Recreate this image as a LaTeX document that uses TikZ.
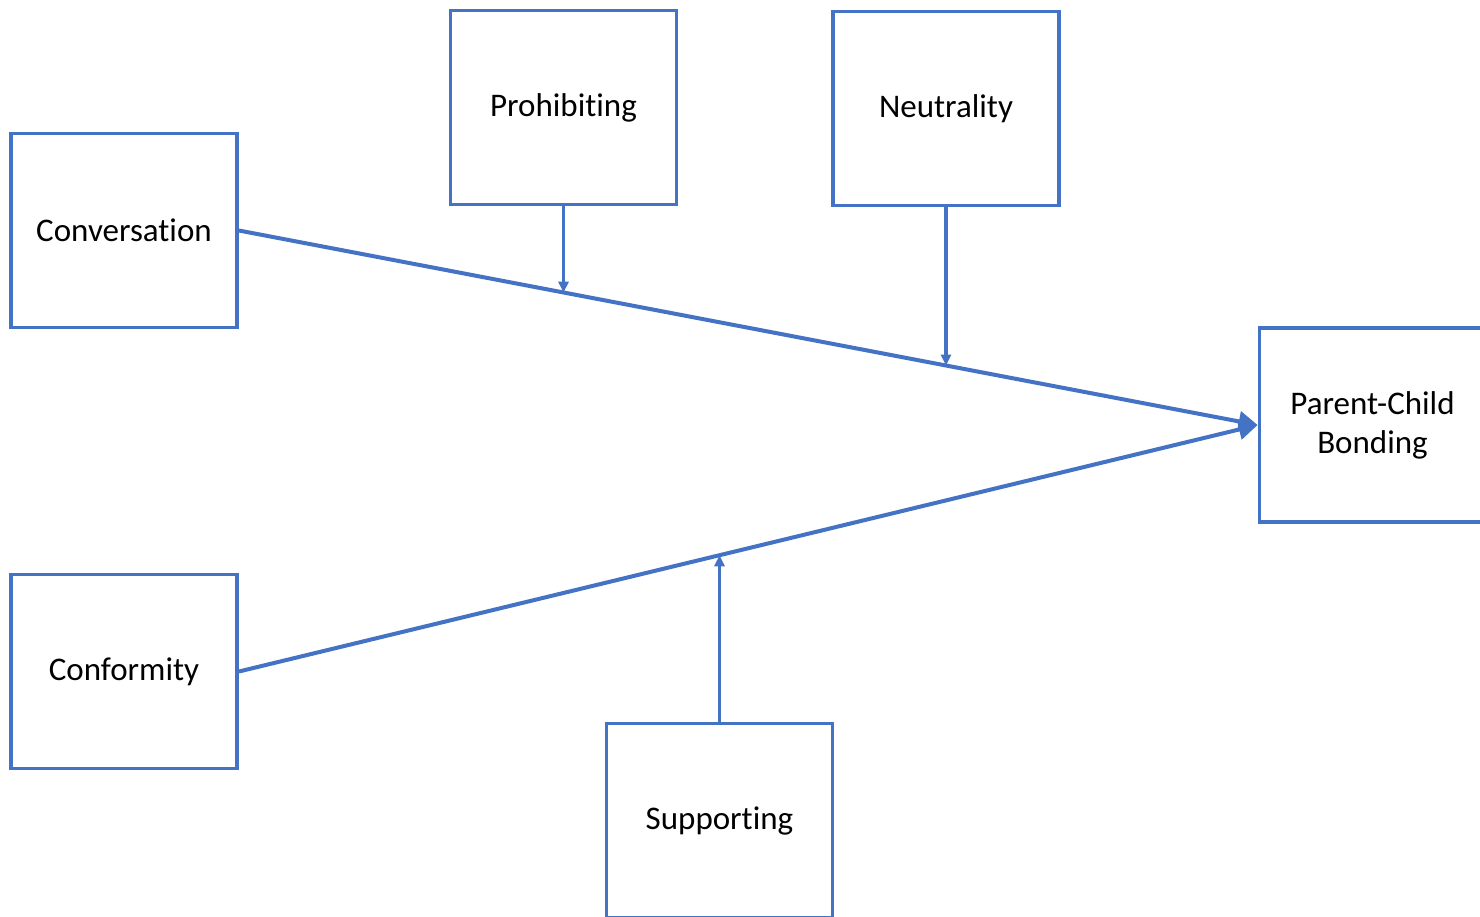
\documentclass[tikz,border=0pt]{standalone}
\usepackage{fontspec}
\setmainfont{Carlito}[Ligatures=NoCommon]
\usetikzlibrary{arrows.meta}
\definecolor{boxblue}{HTML}{4472C4}
\tikzset{
  factor/.style={draw=boxblue, line width=3.8pt, fill=white, minimum width=226pt,
    minimum height=194pt, inner sep=0pt, align=center,
    font=\fontsize{33}{39}\selectfont, yshift=-1.5pt},
  mainlink/.style={draw=boxblue, line width=4pt, -{Triangle[length=19pt,width=20pt]}},
  modlink/.style={draw=boxblue, line width=3.2pt, -{Triangle[length=11pt,width=10pt]}}
}
\begin{document}
\begin{tikzpicture}[x=1pt,y=-1pt]
  \useasboundingbox (0,0) rectangle (1480,916);
  \clip (0,0) rectangle (1480,916);
  \fill[white] (0,0) rectangle (1480,916);

  % factor boxes
  \node[factor] (conv) at (124,229) {Conversation};
  \node[factor] (prohib) at (563.5,106) {Prohibiting};
  \node[factor] (neutral) at (946,107) {Neutrality};
  \node[factor] (bond) at (1372.5,423.5) {Parent-Child\\Bonding};
  \node[factor] (conf) at (124,670) {Conformity};
  \node[factor] (supp) at (719.5,819) {Supporting};

  % main paths into the outcome
  \draw[mainlink] (conv.east) -- (bond.west)
    coordinate[pos=0.3196] (onconvA)
    coordinate[pos=0.6941] (onconvB);
  \draw[mainlink] (conf.east) -- (bond.west)
    coordinate[pos=0.4716] (onconf);

  % moderating arrows onto the paths
  \draw[modlink] (prohib.south) -- (prohib.south |- onconvA);
  \draw[modlink] (neutral.south) -- (neutral.south |- onconvB);
  \draw[modlink] (supp.north) -- (supp.north |- onconf);
\end{tikzpicture}
\end{document}
